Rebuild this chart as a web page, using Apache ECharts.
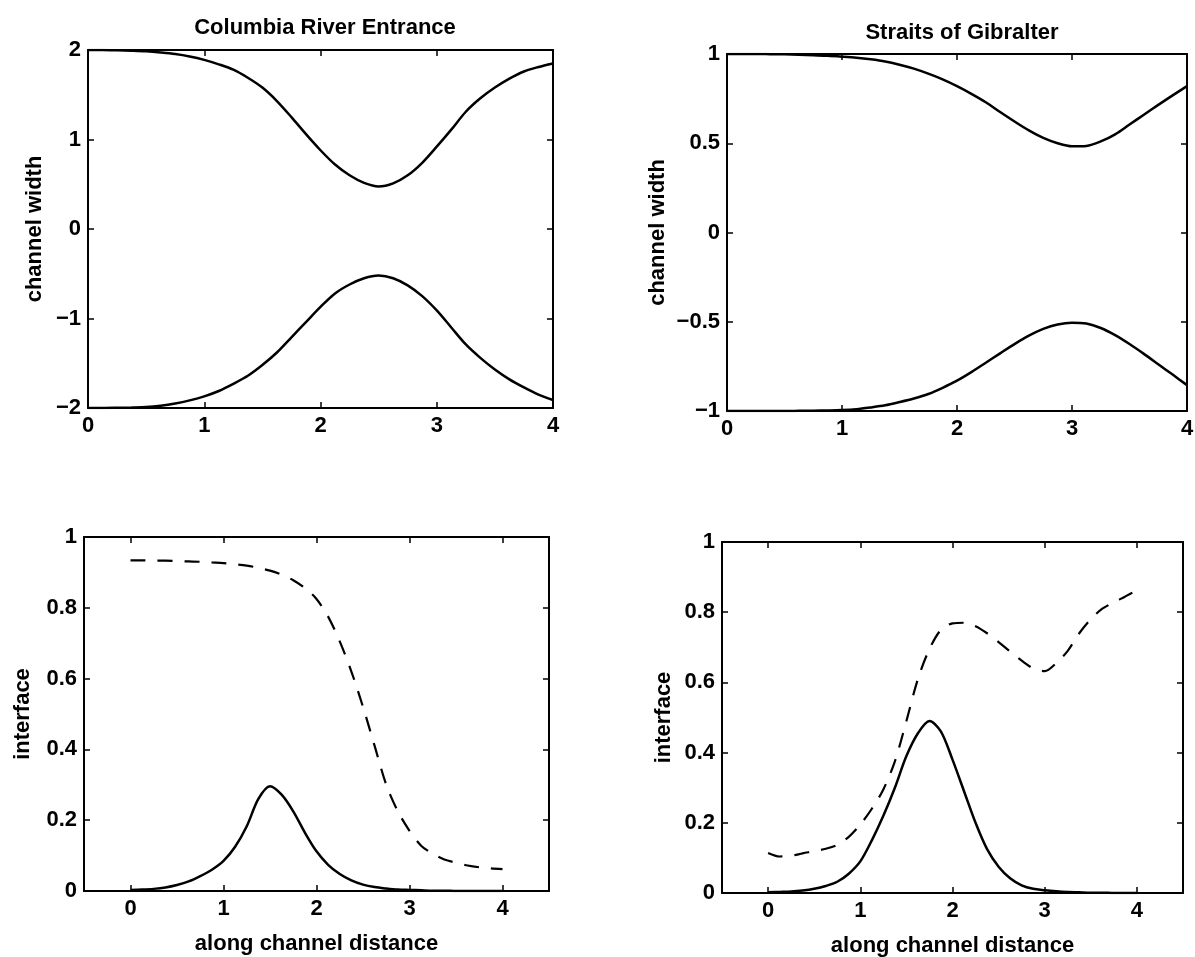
<!DOCTYPE html>
<html>
<head>
<meta charset="utf-8">
<title>channel width / interface</title>
<script src="https://cdn.jsdelivr.net/npm/echarts@6.0.0/dist/echarts.min.js"></script>
<style>
  html, body { margin: 0; padding: 0; background: #fff; }
  #main { width: 1195px; height: 957px; }
</style>
</head>
<body>
<div id="main"></div>
<script>
// along channel distance, same sample points for all four panels (step 0.125)
var distance = [0, 0.125, 0.25, 0.375, 0.5, 0.625, 0.75, 0.875, 1, 1.125, 1.25, 1.375, 1.5, 1.625, 1.75, 1.875,
                2, 2.125, 2.25, 2.375, 2.5, 2.625, 2.75, 2.875, 3, 3.125, 3.25, 3.375, 3.5, 3.625, 3.75, 3.875, 4];

// Columbia River Entrance - channel width
var columbiaUpper = [2.0, 2.0, 1.997, 1.992, 1.985, 1.972, 1.955, 1.928, 1.89, 1.84, 1.78, 1.69, 1.58, 1.43, 1.25, 1.06,
                     0.88, 0.72, 0.6, 0.515, 0.475, 0.51, 0.6, 0.74, 0.92, 1.11, 1.31, 1.46, 1.58, 1.68, 1.76, 1.81, 1.85];
var columbiaLower = [-2.0, -2.0, -1.998, -1.995, -1.99, -1.975, -1.95, -1.915, -1.87, -1.81, -1.73, -1.64, -1.52, -1.38, -1.21, -1.04,
                     -0.87, -0.72, -0.62, -0.55, -0.52, -0.55, -0.63, -0.75, -0.91, -1.1, -1.29, -1.44, -1.57, -1.68, -1.77, -1.85, -1.91];

// Straits of Gibralter - channel width
var gibralterUpper = [1.0, 1.0, 1.0, 0.999, 0.998, 0.996, 0.993, 0.99, 0.985, 0.979, 0.97, 0.958, 0.94, 0.918, 0.89, 0.858,
                      0.82, 0.777, 0.73, 0.675, 0.622, 0.572, 0.53, 0.5, 0.483, 0.485, 0.51, 0.55, 0.605, 0.66, 0.715, 0.768, 0.82];
var gibralterLower = [-1.0, -1.0, -1.0, -1.0, -1.0, -0.999, -0.998, -0.997, -0.995, -0.99, -0.98, -0.968, -0.95, -0.93, -0.905, -0.87,
                      -0.83, -0.782, -0.73, -0.677, -0.625, -0.578, -0.54, -0.515, -0.505, -0.51, -0.535, -0.575, -0.625, -0.68, -0.738, -0.796, -0.855];

// interface, solid and dashed
var columbiaSolid = [0.003, 0.004, 0.006, 0.01, 0.017, 0.027, 0.042, 0.06, 0.085, 0.125, 0.183, 0.26, 0.296, 0.272, 0.225, 0.165,
                     0.112, 0.074, 0.048, 0.03, 0.018, 0.011, 0.007, 0.004, 0.003, 0.002, 0.001, 0.001, 0, 0, 0, 0, 0];
var columbiaDashed = [0.934, 0.934, 0.933, 0.933, 0.932, 0.931, 0.93, 0.928, 0.926, 0.923, 0.919, 0.913, 0.905, 0.894, 0.878, 0.856,
                      0.825, 0.775, 0.705, 0.62, 0.52, 0.41, 0.30, 0.225, 0.17, 0.128, 0.105, 0.089, 0.08, 0.072, 0.067, 0.064, 0.062];
var gibralterSolid = [0.002, 0.003, 0.004, 0.007, 0.012, 0.02, 0.032, 0.055, 0.09, 0.15, 0.22, 0.3, 0.39, 0.455, 0.49, 0.46,
                      0.38, 0.29, 0.2, 0.125, 0.075, 0.042, 0.022, 0.012, 0.008, 0.005, 0.003, 0.002, 0.001, 0.001, 0, 0, 0];
var gibralterDashed = [0.114, 0.104, 0.106, 0.113, 0.119, 0.126, 0.137, 0.16, 0.195, 0.24, 0.295, 0.375, 0.49, 0.61, 0.695, 0.75,
                       0.768, 0.77, 0.76, 0.74, 0.715, 0.688, 0.662, 0.64, 0.632, 0.655, 0.69, 0.74, 0.78, 0.81, 0.828, 0.845, 0.863];

// tick labels
var widthTicksColumbia = [-2, -1, 0, 1, 2];
var widthTicksGibralter = [-1, -0.5, 0, 0.5, 1];
var interfaceTicks = [0, 0.2, 0.4, 0.6, 0.8, 1];
var distanceTicks = [0, 1, 2, 3, 4];

var titles = ['Columbia River Entrance', 'Straits of Gibralter'];

function pairs(ys) {
  return distance.map(function (x, i) { return [x, ys[i]]; });
}

var FONT = '"Liberation Sans", Arial, Helvetica, sans-serif';

function minus(v) {
  return String(v).replace('-', '\u2212');
}

// one grid = one panel, with box frame and inward ticks on all four sides
var panels = [
  { left: 88,  top: 50,  width: 465, height: 358, xmin: 0,    xmax: 4,   ymin: -2, ymax: 2, yticks: widthTicksColumbia, yname: 'channel width', ygap: 42, xname: '' },
  { left: 727, top: 54,  width: 460, height: 357, xmin: 0,    xmax: 4,   ymin: -1, ymax: 1, yticks: widthTicksGibralter, yname: 'channel width', ygap: 58, xname: '' },
  { left: 84,  top: 537, width: 465, height: 354, xmin: -0.5, xmax: 4.5, ymin: 0,  ymax: 1, yticks: interfaceTicks, yname: 'interface', ygap: 50, xname: 'along channel distance' },
  { left: 722, top: 542, width: 461, height: 351, xmin: -0.5, xmax: 4.5, ymin: 0,  ymax: 1, yticks: interfaceTicks, yname: 'interface', ygap: 47, xname: 'along channel distance' }
];

var grids = [], xAxes = [], yAxes = [];
var lineAxis = { show: true, onZero: false, lineStyle: { color: '#000', width: 2 } };
var tickIn = function (vals) {
  return { show: true, inside: true, length: 6, customValues: vals, lineStyle: { color: '#000', width: 1.5 } };
};
var labelStyle = { color: '#000', fontSize: 22, fontWeight: 'bold', fontFamily: FONT, margin: 7 };

panels.forEach(function (p, i) {
  grids.push({ left: p.left, top: p.top, width: p.width, height: p.height, outerBoundsMode: 'none' });

  xAxes.push({
    type: 'value', gridIndex: i, position: 'bottom', min: p.xmin, max: p.xmax,
    axisLine: lineAxis, axisTick: tickIn(distanceTicks), splitLine: { show: false },
    axisLabel: Object.assign({ customValues: distanceTicks }, labelStyle),
    name: p.xname, nameLocation: 'middle', nameGap: 42,
    nameTextStyle: { color: '#000', fontSize: 22, fontWeight: 'bold', fontFamily: FONT }
  });
  xAxes.push({
    type: 'value', gridIndex: i, position: 'top', min: p.xmin, max: p.xmax,
    axisLine: lineAxis, axisTick: tickIn(distanceTicks), splitLine: { show: false },
    axisLabel: { show: false }
  });
  yAxes.push({
    type: 'value', gridIndex: i, position: 'left', min: p.ymin, max: p.ymax,
    axisLine: lineAxis, axisTick: tickIn(p.yticks), splitLine: { show: false },
    axisLabel: Object.assign({ customValues: p.yticks, formatter: minus }, labelStyle),
    name: p.yname, nameLocation: 'middle', nameGap: p.ygap,
    nameTextStyle: { color: '#000', fontSize: 22, fontWeight: 'bold', fontFamily: FONT }
  });
  yAxes.push({
    type: 'value', gridIndex: i, position: 'right', min: p.ymin, max: p.ymax,
    axisLine: lineAxis, axisTick: tickIn(p.yticks), splitLine: { show: false },
    axisLabel: { show: false }
  });
});

function curve(i, ys, dashed) {
  return {
    type: 'line', xAxisIndex: 2 * i, yAxisIndex: 2 * i,
    data: pairs(ys), showSymbol: false, smooth: 0.3, silent: true,
    lineStyle: dashed ? { color: '#000', width: 2.2, type: [15, 12] } : { color: '#000', width: 2.5 }
  };
}

var chart = echarts.init(document.getElementById('main'));

chart.setOption({
  backgroundColor: '#fff',
  animation: false,
  title: [
    { text: titles[0], left: 320, top: 12, textAlign: 'center',
      textStyle: { color: '#000', fontSize: 22, fontWeight: 'bold', fontFamily: FONT } },
    { text: titles[1], left: 957, top: 17, textAlign: 'center',
      textStyle: { color: '#000', fontSize: 22, fontWeight: 'bold', fontFamily: FONT } }
  ],
  grid: grids,
  xAxis: xAxes,
  yAxis: yAxes,
  series: [
    curve(0, columbiaUpper), curve(0, columbiaLower),
    curve(1, gibralterUpper), curve(1, gibralterLower),
    curve(2, columbiaSolid), curve(2, columbiaDashed, true),
    curve(3, gibralterSolid), curve(3, gibralterDashed, true)
  ]
});
</script>
</body>
</html>
